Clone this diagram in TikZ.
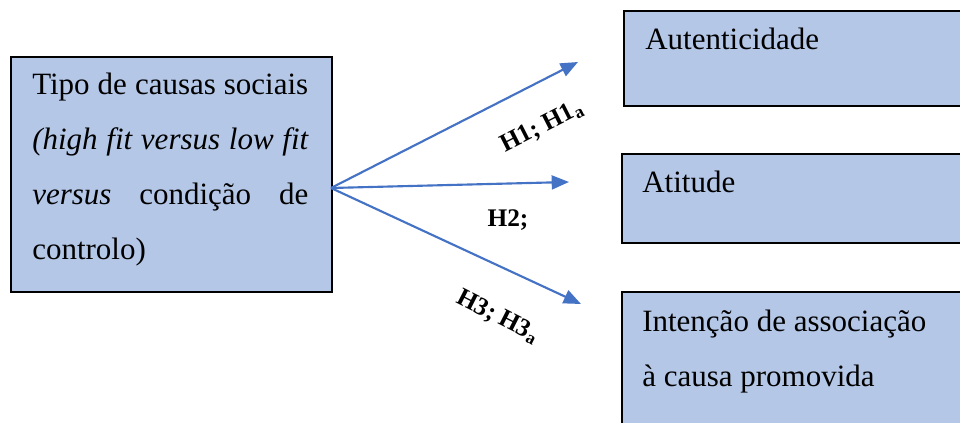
\documentclass[tikz,border=0pt]{standalone}
\usepackage{fontspec}
\setmainfont{Liberation Serif}
\usetikzlibrary{arrows.meta}
\definecolor{boxfill}{HTML}{B4C7E7}
\definecolor{arrowblue}{HTML}{4472C4}
\tikzset{
  varbox/.style={draw=black, line width=1.3pt, fill=boxfill, inner sep=0pt, anchor=north west},
  boxtext/.style={inner sep=0pt, anchor=base west, font=\fontsize{23.25}{41.25}\selectfont},
  hyplabel/.style={inner sep=0pt, font=\fontsize{19}{22}\selectfont\bfseries},
  effect/.style={draw=arrowblue, line width=1.6pt, -{Triangle[length=13pt, width=10.5pt]}}
}
\begin{document}
\begin{tikzpicture}[x=0.75pt, y=-0.75pt]
\useasboundingbox (0,0) rectangle (960,423);
\clip (0,0) rectangle (960,423);

% independent variable
\node[varbox, minimum width=321*0.75pt, minimum height=235*0.75pt] (iv) at (10,56) {};
\node[boxtext] (ivtext) at (32,95) {\vtop{\baselineskip=41.25pt
  \hbox to 207pt{Tipo de causas sociais}
  \hbox to 207pt{\itshape (high fit versus low fit}
  \hbox to 207pt{\itshape versus\hfill\upshape condição\hfill de}
  \hbox{controlo)}}};

% dependent variables
\node[varbox, minimum width=360*0.75pt, minimum height=95*0.75pt] (dv1) at (623,10) {};
\node[boxtext] (dv1text) at (645,50) {Autenticidade};

\node[varbox, minimum width=360*0.75pt, minimum height=89*0.75pt] (dv2) at (621,153) {};
\node[boxtext] (dv2text) at (642,193) {Atitude};

\node[varbox, minimum width=360*0.75pt, minimum height=150*0.75pt] (dv3) at (621,291) {};
\node[boxtext] (dv3text) at (642,332) {\vtop{\baselineskip=41.25pt
  \hbox{Intenção de associação}
  \hbox{à causa promovida}}};

% hypothesised effects
\coordinate (src) at (331,188);
\coordinate (tip1) at (578,62);
\coordinate (tip2) at (569,182);
\coordinate (tip3) at (581,304);
\draw[effect] (src) -- (tip1);
\draw[effect] (src) -- (tip2);
\draw[effect] (src) -- (tip3);

\node[hyplabel, rotate=27] (h1) at (542,127) {H1; H1\textsubscript{a}};
\node[hyplabel] (h2) at (508,220) {H2;};
\node[hyplabel, rotate=-27] (h3) at (498,317) {H3; H3\textsubscript{a}};
\end{tikzpicture}
\end{document}
